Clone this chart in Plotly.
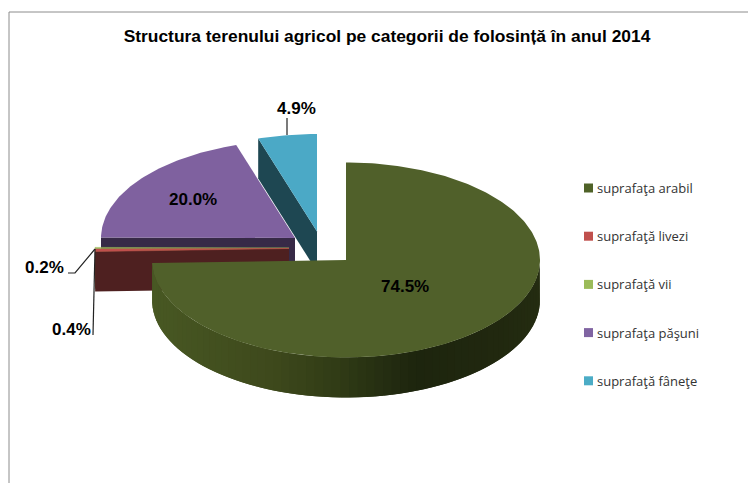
import math
import plotly.graph_objects as go

# ---- data ----
TITLE = "Structura terenului agricol pe categorii de folosință în anul 2014"
categories = ["suprafaţa arabil", "suprafaţă livezi", "suprafaţă vii", "suprafaţa păşuni", "suprafaţă fâneţe"]
values = [74.5, 0.4, 0.2, 20.0, 4.9]
value_labels = ["74.5%", "0.4%", "0.2%", "20.0%", "4.9%"]

# ---- styles ----
top_colors = ["#50602A", "#C0504D", "#9BBB59", "#7F619F", "#4BA9C6"]
wall_colors = ["#45551F", "#4E2020", "#5A6E30", "#372A47", "#1E4752"]
legend_colors = ["#4F6228", "#C0504D", "#9BBB59", "#8064A2", "#4BACC6"]
FONT = "Liberation Sans"
LEG_FONT = "Open Sans"

# ---- pie projection (pixel geometry of the pseudo-3D pie) ----
RX, RY, DEPTH = 194.0, 97.5, 40.0
apex = [(346, 260), (289, 248.5), (289, 248), (295, 238), (317, 231.5)]


def pt(c, theta, dz=0.0, r=1.0):
    return (c[0] + r * RX * math.sin(theta), c[1] - r * RY * math.cos(theta) + dz)


def arc(c, a0, a1, dz=0.0):
    n = max(2, int(abs(a1 - a0) * 60))
    return [pt(c, a0 + (a1 - a0) * i / n, dz) for i in range(n + 1)]


def poly(pts, color, name=None, lw=0):
    xs = [p[0] for p in pts] + [pts[0][0]]
    ys = [p[1] for p in pts] + [pts[0][1]]
    return go.Scatter(x=xs, y=ys, mode="lines", fill="toself", fillcolor=color,
                      line=dict(color=color, width=lw), hoverinfo="skip" if name is None else "text",
                      text=name, showlegend=False)


total = sum(values)
angles = []
acc = 0.0
for v in values:
    a0 = acc / total * 2 * math.pi
    acc += v
    angles.append((a0, acc / total * 2 * math.pi))

fig = go.Figure()

# Back slices first: cut walls, then their top faces
for i in (4, 3):
    c = apex[i]
    a0, a1 = angles[i]
    fig.add_trace(poly([pt(c, a0), c, (c[0], c[1] + DEPTH), pt(c, a0, DEPTH)], wall_colors[i]))
    fig.add_trace(poly([c] + arc(c, a0, a1), top_colors[i], categories[i]))

# vii and livezi
for i in (2, 1):
    c = apex[i]
    a0, a1 = angles[i]
    fig.add_trace(poly([pt(c, a0), c, (c[0], c[1] + DEPTH), pt(c, a0, DEPTH)], wall_colors[i]))
    fig.add_trace(poly([c] + arc(c, a0, a1), top_colors[i], categories[i], lw=0.5))

# arabil: rim drawn as overlapping shaded pieces, then the top face
i = 0
c = apex[i]
a0, a1 = angles[i]
shade_stops = [(152, (72, 88, 35)), (270, (62, 73, 28)), (335, (49, 60, 22)),
               (415, (29, 37, 14)), (500, (33, 40, 15)), (540, (36, 44, 17))]


def shade(x):
    for (x0, c0), (x1, c1) in zip(shade_stops, shade_stops[1:]):
        if x <= x1:
            t = max(0.0, (x - x0) / (x1 - x0))
            return "rgb(%d,%d,%d)" % tuple(round(u + (w - u) * t) for u, w in zip(c0, c1))
    return "rgb(%d,%d,%d)" % shade_stops[-1][1]


N = 70
start = math.pi / 2
for k in range(N):
    t0 = start + (a1 - start) * k / N
    t1 = start + (a1 - start) * (k + 1) / N
    t2 = min(a1, t1 + (a1 - start) / N)
    mid = pt(c, (t0 + t1) / 2)[0]
    pts = arc(c, t0, t2) + arc(c, t2, t0, DEPTH)
    fig.add_trace(poly(pts, shade(mid)))
fig.add_trace(poly([c] + arc(c, a0, a1), top_colors[i], categories[i]))

# leader lines
leaders = [([287, 287], [118, 135]), ([68, 75, 95], [273, 273, 249]), ([93, 95], [335, 249])]
for lx, ly in leaders:
    fig.add_trace(go.Scatter(x=lx, y=ly, mode="lines", line=dict(color="#222222", width=1.2),
                             hoverinfo="skip", showlegend=False))

# frame of the chart area
fig.add_trace(go.Scatter(x=[9, 9, 748], y=[483, 12, 12], mode="lines",
                         line=dict(color="#8C8C8C", width=1), hoverinfo="skip", showlegend=False))

# legend
leg_y = [188 + 48.2 * k for k in range(len(categories))]
fig.add_trace(go.Scatter(x=[588.5] * len(categories), y=leg_y, mode="markers",
                         marker=dict(symbol="square", size=9, color=legend_colors),
                         text=categories, hoverinfo="text", showlegend=False))
annos = []
for name, y in zip(categories, leg_y):
    annos.append(dict(x=594.5, y=y, text=name, showarrow=False, xanchor="left", yanchor="middle",
                      font=dict(family=LEG_FONT, size=13, color="#333333")))

# value labels
label_pos = [(404.5, 286), (71, 329), (44, 267), (192.5, 199), (296, 108)]
for t, (x, y) in zip(value_labels, label_pos):
    annos.append(dict(x=x, y=y, text="<b>%s</b>" % t, showarrow=False, xanchor="center", yanchor="middle",
                      font=dict(family=FONT, size=17, color="#000000")))

fig.update_layout(
    width=748, height=483, margin=dict(l=0, r=0, t=0, b=0),
    paper_bgcolor="white", plot_bgcolor="white", showlegend=False,
    title=dict(text="<b>%s</b>" % TITLE, x=387 / 748, y=1 - 36 / 483, xanchor="center", yanchor="middle",
               font=dict(family=FONT, size=17.4, color="#000000")),
    xaxis=dict(range=[0, 748], visible=False, fixedrange=True),
    yaxis=dict(range=[483, 0], visible=False, fixedrange=True),
    annotations=annos,
)
fig.write_html("out.html", post_script="document.body.style.margin='0';", config={"displayModeBar": False})
